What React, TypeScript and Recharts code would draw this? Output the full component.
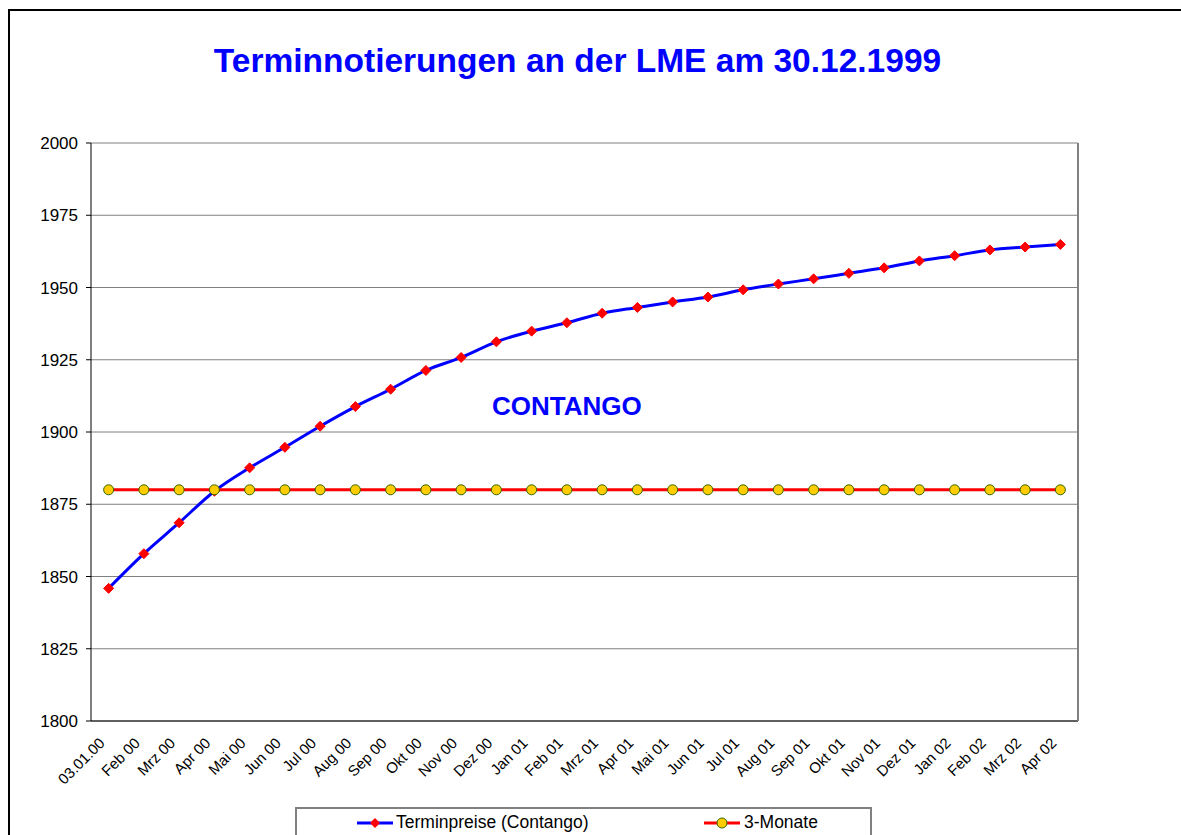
import React from "react";
import {
  LineChart,
  Line,
  XAxis,
  YAxis,
  CartesianGrid,
  ReferenceDot,
} from "recharts";

const categories = [
  "03.01.00", "Feb 00", "Mrz 00", "Apr 00", "Mai 00", "Jun 00", "Jul 00",
  "Aug 00", "Sep 00", "Okt 00", "Nov 00", "Dez 00", "Jan 01", "Feb 01",
  "Mrz 01", "Apr 01", "Mai 01", "Jun 01", "Jul 01", "Aug 01", "Sep 01",
  "Okt 01", "Nov 01", "Dez 01", "Jan 02", "Feb 02", "Mrz 02", "Apr 02",
];

const terminpreise = [
  1845.9, 1857.9, 1868.6, 1879.5, 1887.6, 1894.7, 1902.0, 1908.8, 1914.8,
  1921.3, 1925.8, 1931.2, 1934.9, 1937.8, 1941.1, 1943.1, 1945.0, 1946.7,
  1949.2, 1951.2, 1953.0, 1954.9, 1956.8, 1959.2, 1961.0, 1963.0, 1964.0,
  1964.9,
];

const dreiMonate = [
  1880, 1880, 1880, 1880, 1880, 1880, 1880, 1880, 1880, 1880, 1880, 1880,
  1880, 1880, 1880, 1880, 1880, 1880, 1880, 1880, 1880, 1880, 1880, 1880,
  1880, 1880, 1880, 1880,
];

const yTicks = [1800, 1825, 1850, 1875, 1900, 1925, 1950, 1975, 2000];

const title = "Terminnotierungen an der LME am 30.12.1999";
const annotation = "CONTANGO";
const seriesNames = ["Terminpreise (Contango)", "3-Monate"];

// category centers sit at i + 0.5, boundaries at integers
const data = categories.map((label, i) => ({
  pos: i + 0.5,
  label,
  termin: terminpreise[i],
  drei: dreiMonate[i],
}));
const boundaryTicks = categories.map((_, i) => i).concat(categories.length);
const centerTicks = categories.map((_, i) => i + 0.5);

const FONT = "Arial, 'Liberation Sans', sans-serif";

const Diamond = (props: any) => {
  const { cx, cy } = props;
  if (cx == null || cy == null) return null;
  const s = 5;
  return (
    <polygon
      points={`${cx},${cy - s} ${cx + s},${cy} ${cx},${cy + s} ${cx - s},${cy}`}
      fill="#FF0000"
      stroke="#FF0000"
      strokeWidth={1}
    />
  );
};

const XLabel = (props: any) => {
  const { x, y, payload } = props;
  const idx = Math.floor(payload.value);
  const ax = x - 3;
  const ay = y + 14;
  return (
    <text
      x={ax}
      y={ay}
      textAnchor="end"
      fontSize={15}
      fontFamily={FONT}
      fill="#000"
      transform={`rotate(-45, ${ax}, ${ay})`}
    >
      {categories[idx]}
    </text>
  );
};

export default function App() {
  return (
    <div
      style={{
        position: "absolute",
        left: 0,
        top: 0,
        width: 1181,
        height: 835,
        overflow: "hidden",
        background: "#fff",
        fontFamily: FONT,
      }}
    >
      <div
        style={{
          position: "absolute",
          left: 8,
          top: 9,
          width: 1200,
          height: 900,
          border: "2px solid #000",
        }}
      />
      <div
        style={{
          position: "absolute",
          left: 0,
          top: 42,
          width: 1155,
          textAlign: "center",
          fontSize: 33.5,
          fontWeight: "bold",
          color: "#0000FF",
        }}
      >
        {title}
      </div>
      <div style={{ position: "absolute", left: 0, top: 0 }}>
        <LineChart
          width={1181}
          height={835}
          data={data}
          margin={{ top: 143, right: 102, left: 31, bottom: 53 }}
        >
          <CartesianGrid vertical={false} stroke="#808080" strokeWidth={1} />
          <XAxis
            xAxisId="grid"
            type="number"
            dataKey="pos"
            domain={[0, categories.length]}
            ticks={boundaryTicks}
            height={1}
            tick={false}
            tickSize={5}
            tickLine={{ stroke: "#000" }}
            axisLine={{ stroke: "#000" }}
          />
          <XAxis
            xAxisId="main"
            type="number"
            dataKey="pos"
            domain={[0, categories.length]}
            ticks={centerTicks}
            interval={0}
            height={60}
            tickLine={false}
            axisLine={false}
            tick={<XLabel />}
          />
          <YAxis
            domain={[1800, 2000]}
            ticks={yTicks}
            width={60}
            tickSize={5}
            tickMargin={8}
            tickLine={{ stroke: "#000" }}
            axisLine={{ stroke: "#000" }}
            tick={{ fontSize: 17, fill: "#000", fontFamily: FONT }}
            interval={0}
          />
          <YAxis
            yAxisId="right"
            orientation="right"
            domain={[1800, 2000]}
            width={1}
            tick={false}
            tickLine={false}
            axisLine={{ stroke: "#808080", strokeWidth: 2 }}
          />
          <Line
            xAxisId="main"
            type="monotone"
            dataKey="termin"
            name={seriesNames[0]}
            stroke="#0000FF"
            strokeWidth={3}
            dot={<Diamond />}
            isAnimationActive={false}
          />
          <Line
            xAxisId="main"
            type="linear"
            dataKey="drei"
            name={seriesNames[1]}
            stroke="#FF0000"
            strokeWidth={3}
            dot={{ r: 5, fill: "#FFCC00", stroke: "#336600", strokeWidth: 1 }}
            isAnimationActive={false}
          />
          <ReferenceDot
            xAxisId="main"
            x={13.5}
            y={1909}
            r={0}
            label={{
              value: annotation,
              position: "center",
              fill: "#0000FF",
              fontSize: 26,
              fontWeight: "bold",
              fontFamily: FONT,
            }}
          />
        </LineChart>
      </div>
      <div
        style={{
          position: "absolute",
          left: 295,
          top: 807,
          width: 573,
          height: 40,
          border: "2px solid #808080",
          background: "#fff",
        }}
      >
        <svg
          width={40}
          height={12}
          style={{ position: "absolute", left: 58, top: 8 }}
        >
          <line x1={2} y1={6} x2={38} y2={6} stroke="#0000FF" strokeWidth={3} />
          <polygon points="20,1 25,6 20,11 15,6" fill="#FF0000" />
        </svg>
        <span
          style={{ position: "absolute", left: 99, top: 3, fontSize: 17.5, color: "#000" }}
        >
          {seriesNames[0]}
        </span>
        <svg
          width={40}
          height={12}
          style={{ position: "absolute", left: 405, top: 8 }}
        >
          <line x1={2} y1={6} x2={38} y2={6} stroke="#FF0000" strokeWidth={3} />
          <circle cx={20} cy={6} r={5} fill="#FFCC00" stroke="#336600" strokeWidth={1} />
        </svg>
        <span
          style={{ position: "absolute", left: 447, top: 3, fontSize: 17.5, color: "#000" }}
        >
          {seriesNames[1]}
        </span>
      </div>
    </div>
  );
}
